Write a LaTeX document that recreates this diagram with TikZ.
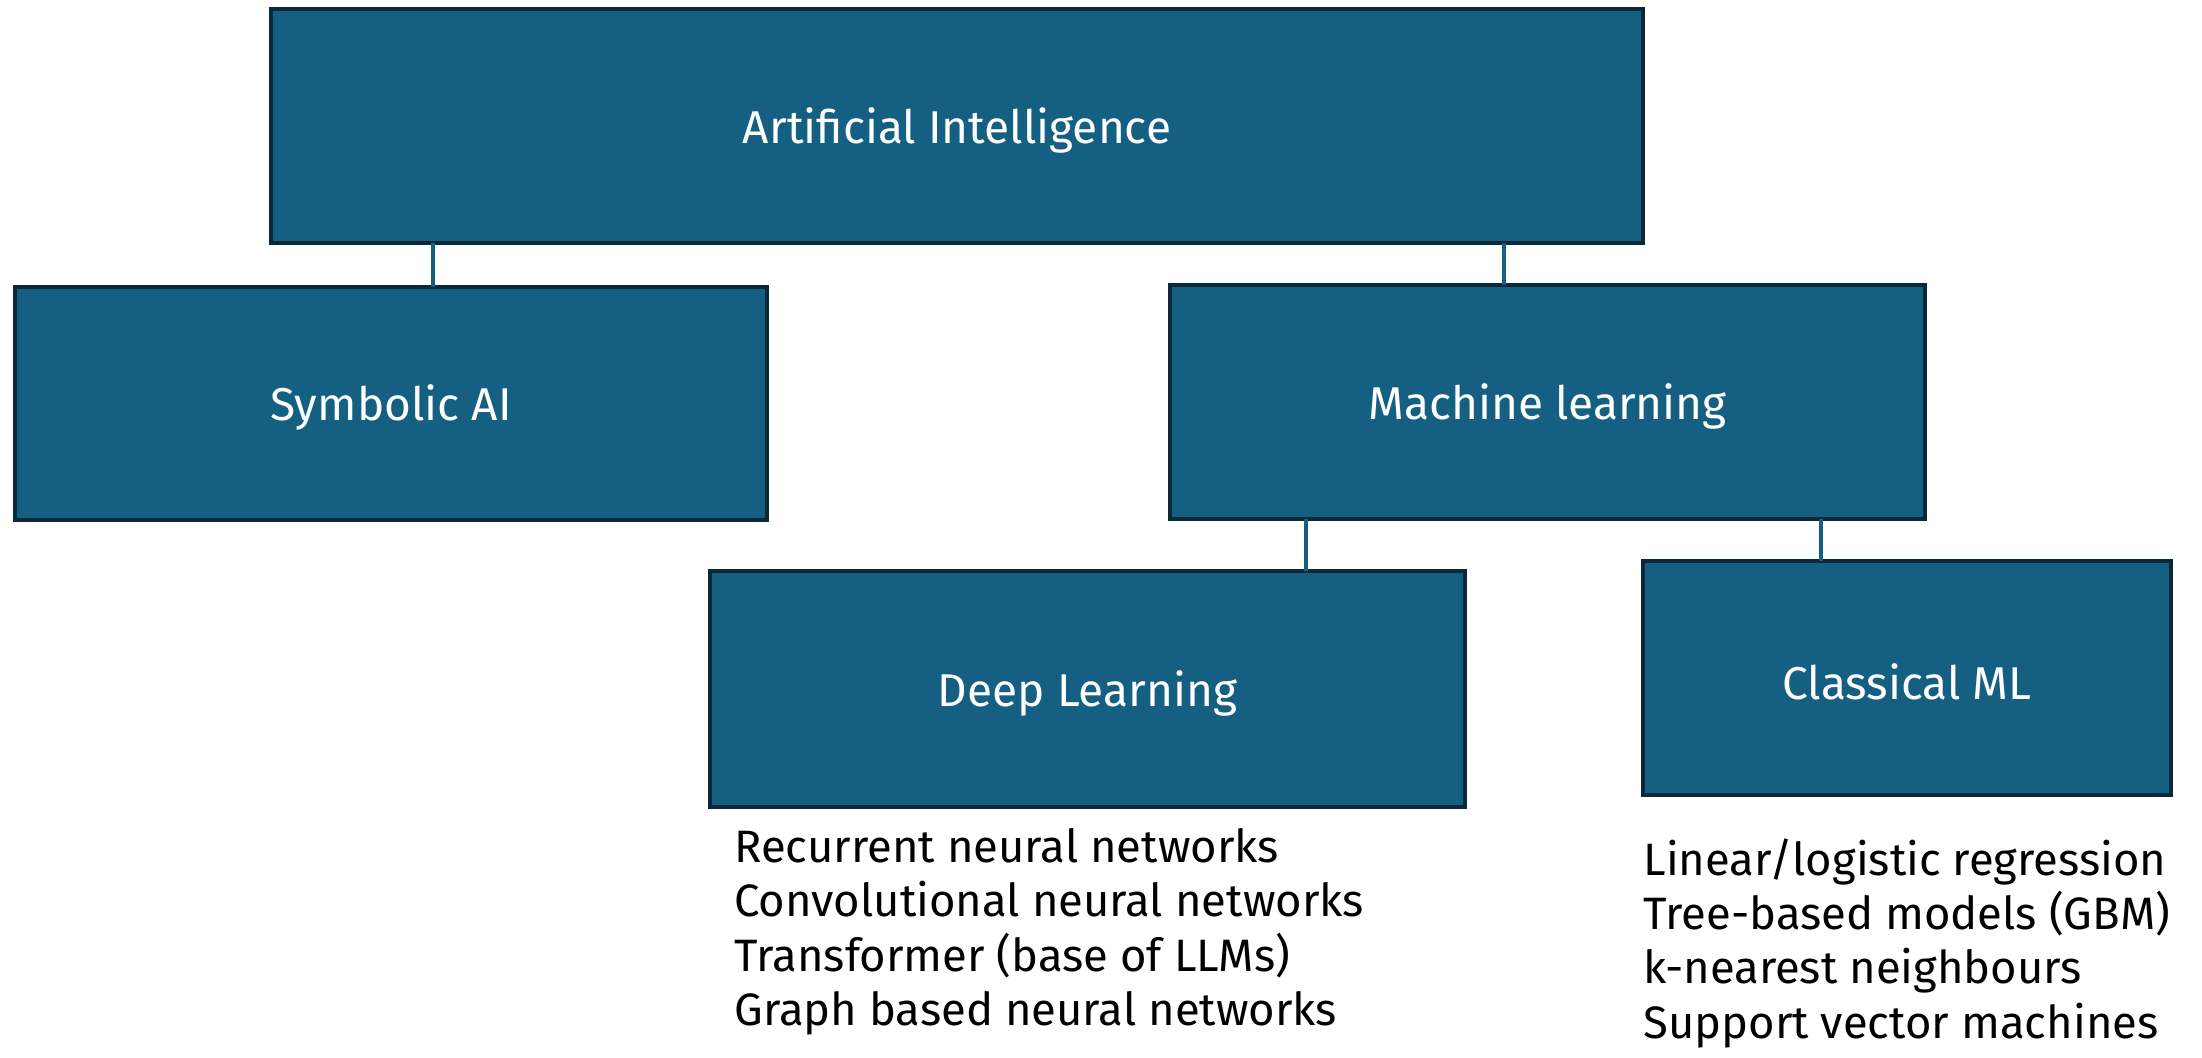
\documentclass[tikz,border=0pt]{standalone}
\usepackage{fontspec}
\setmainfont{Fira Sans}
\definecolor{boxfill}{HTML}{156082}
\definecolor{boxline}{HTML}{0A2838}
\tikzset{
  box/.style={draw=boxline, fill=boxfill, line width=2pt, inner sep=0pt, outer sep=0pt,
    text=white, font=\fontsize{23}{27}\selectfont},
  lbl/.style={text=white, inner sep=0pt, font=\fontsize{23}{27}\selectfont},
  link/.style={draw=boxfill, line width=2pt},
  listtext/.style={anchor=north west, inner sep=0pt, align=left, text=black,
    font=\fontsize{22.7}{27.2}\selectfont}
}
\begin{document}
\begin{tikzpicture}[x=0.5pt,y=-0.5pt]
\useasboundingbox (0,0) rectangle (2202,1057);
\node[box, minimum width=686pt, minimum height=117pt] (ai) at (957,126) {};
\node[box, minimum width=376pt, minimum height=116.5pt] (sym) at (391,403.5) {};
\node[box, minimum width=377.5pt, minimum height=117pt] (ml) at (1547.5,402) {};
\node[box, minimum width=377.5pt, minimum height=118pt] (dl) at (1087.5,689) {};
\node[box, minimum width=264pt, minimum height=117pt] (cml) at (1907,678) {};
\node[lbl] (ait) at ([yshift=-2pt]ai.center) {Artificial Intelligence};
\node[lbl] (symt) at ([yshift=-2pt]sym.center) {Symbolic AI};
\node[lbl] (mlt) at ([yshift=-2pt]ml.center) {Machine learning};
\node[lbl] (dlt) at ([yshift=-2pt]dl.center) {Deep Learning};
\node[lbl] (cmlt) at ([yshift=-2pt]cml.center) {Classical ML};
\coordinate (k1) at (433,0);
\coordinate (k2) at (1504,0);
\coordinate (k3) at (1306,0);
\coordinate (k4) at (1821,0);
\draw[link] (ai.south -| k1) -- (sym.north -| k1);
\draw[link] (ai.south -| k2) -- (ml.north -| k2);
\draw[link] (ml.south -| k3) -- (dl.north -| k3);
\draw[link] (ml.south -| k4) -- (cml.north -| k4);
\node[listtext] (dllist) at (734,828) {Recurrent neural networks\\Convolutional neural networks\\Transformer (base of LLMs)\\Graph based neural networks};
\node[listtext] (cmllist) at (1643,838) {Linear/logistic regression\\Tree-based models (GBM)\\k-nearest neighbours\\Support vector machines};
\end{tikzpicture}
\end{document}
